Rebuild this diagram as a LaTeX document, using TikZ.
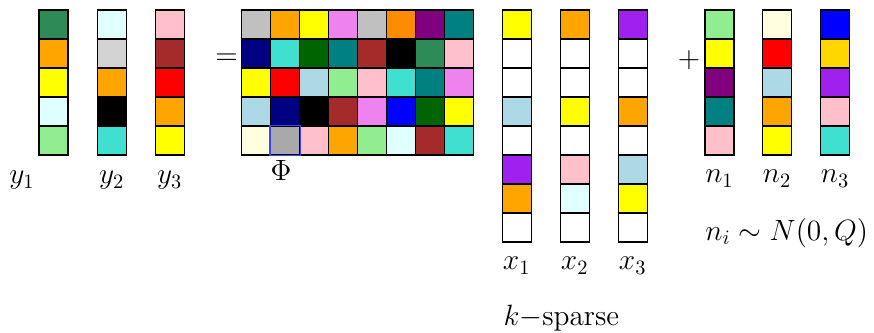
\PassOptionsToPackage{svgnames}{xcolor}
\documentclass[tikz,border=0pt]{standalone}
\usepackage{amsmath}
\usepackage{xcolor}
\usepackage{tikz}
\definecolor{vpurple}{RGB}{160,32,240}

\begin{document}
\begin{tikzpicture}[
    x=0.5cm, y=0.5cm,
    cell/.style={rectangle, draw, line width=0.6pt, minimum size=0.5cm, inner sep=0pt},
    lbl/.style={font=\Large, inner sep=0pt}
  ]

    \useasboundingbox (0,0) rectangle (30.14,-11.48);

    % Measurements y_i
    \foreach \c [count=\i] in {SeaGreen,Orange,Yellow,LightCyan,LightGreen}
      \node[cell, fill=\c] (y1-\i) at (1.845, 0.155-\i) {};
    \foreach \c [count=\i] in {LightCyan,LightGray,Orange,Black,Turquoise}
      \node[cell, fill=\c] (y2-\i) at (3.855, 0.155-\i) {};
    \foreach \c [count=\i] in {Pink,Brown,Red,Orange,Yellow}
      \node[cell, fill=\c] (y3-\i) at (5.855, 0.155-\i) {};

    \node[lbl, anchor=base] (ly1) at (0.76, -6.34) {$y_1$};
    \node[lbl, anchor=base] (ly2) at (3.855, -6.34) {$y_2$};
    \node[lbl, anchor=base] (ly3) at (5.855, -6.34) {$y_3$};

    \node[lbl] (eq) at (7.81, -2.03) {$=$};

    % Dictionary Phi
    \foreach \cl [count=\i] in {
        {Silver,Orange,Yellow,Violet,Silver,DarkOrange,Purple,Teal},
        {Navy,Turquoise,DarkGreen,Teal,Brown,Black,SeaGreen,Pink},
        {Yellow,Red,LightBlue,LightGreen,Pink,Turquoise,Teal,Violet},
        {LightBlue,Navy,Black,Brown,Violet,Blue,DarkGreen,Yellow},
        {LightYellow,DarkGray,Pink,Orange,LightGreen,LightCyan,Brown,Turquoise}}
      \foreach \c [count=\j] in \cl
        \node[cell, fill=\c] (phi-\i-\j) at (7.83+\j, 0.155-\i) {};
    \draw[line width=0.6pt, Blue!75] (phi-5-2.south west) rectangle (phi-5-2.north east);

    \node[lbl, anchor=base] (lphi) at (9.69, -6.24) {$\Phi$};

    % Sparse codes x_i
    \foreach \c [count=\i] in {Yellow,white,white,LightBlue,white,vpurple,Orange,white}
      \node[cell, fill=\c] (x1-\i) at (17.82, 0.155-\i) {};
    \foreach \c [count=\i] in {Orange,white,white,Yellow,white,Pink,LightCyan,white}
      \node[cell, fill=\c] (x2-\i) at (19.82, 0.155-\i) {};
    \foreach \c [count=\i] in {vpurple,white,white,Orange,white,LightBlue,Yellow,white}
      \node[cell, fill=\c] (x3-\i) at (21.82, 0.155-\i) {};

    \node[lbl, anchor=base] (lx1) at (17.82, -9.31) {$x_1$};
    \node[lbl, anchor=base] (lx2) at (19.82, -9.31) {$x_2$};
    \node[lbl, anchor=base] (lx3) at (21.82, -9.31) {$x_3$};
    \node[lbl, anchor=base west] (sparse) at (17.35, -11.24) {$k-$sparse};

    \node[lbl] (plus) at (23.76, -2.07) {$+$};

    % Noise n_i
    \foreach \c [count=\i] in {LightGreen,Yellow,Purple,Teal,Pink}
      \node[cell, fill=\c] (n1-\i) at (24.81, 0.155-\i) {};
    \foreach \c [count=\i] in {LightYellow,Red,LightBlue,Orange,Yellow}
      \node[cell, fill=\c] (n2-\i) at (26.8, 0.155-\i) {};
    \foreach \c [count=\i] in {Blue,Gold,vpurple,Pink,Turquoise}
      \node[cell, fill=\c] (n3-\i) at (28.8, 0.155-\i) {};

    \node[lbl, anchor=base] (ln1) at (24.81, -6.31) {$n_1$};
    \node[lbl, anchor=base] (ln2) at (26.8, -6.31) {$n_2$};
    \node[lbl, anchor=base] (ln3) at (28.8, -6.31) {$n_3$};
    \node[lbl, anchor=base west] (noise) at (24.31, -8.28) {$n_i \sim N(0,Q)$};

  \end{tikzpicture}
\end{document}
